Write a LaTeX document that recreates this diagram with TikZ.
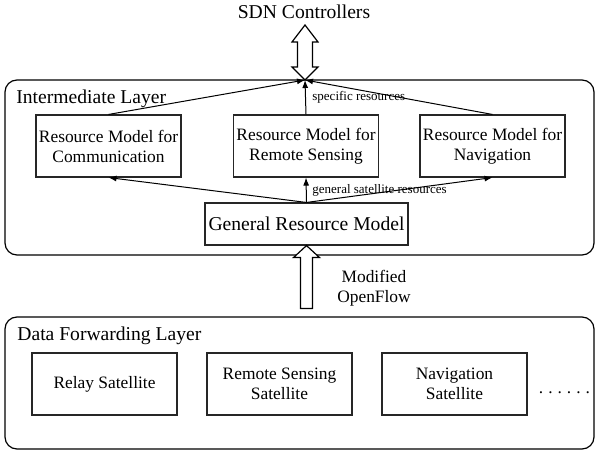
\documentclass[tikz,border=0pt]{standalone}
\usepackage{fontspec}
\setmainfont{Liberation Serif}
\usetikzlibrary{arrows.meta}
\newcommand\gapdot{.\kern2.5pt}
\begin{document}
\begin{tikzpicture}[x=0.5pt, y=-0.5pt,
    layer/.style={draw, rounded corners=6pt, line width=0.6pt},
    res/.style={draw=black!85, line width=0.55pt, minimum width=72.5pt, minimum height=31pt,
        inner sep=0pt, align=center, font=\fontsize{8.7}{10}\selectfont},
    title/.style={inner sep=0pt, font=\fontsize{9.8}{11}\selectfont},
    tag/.style={inner sep=0pt, font=\fontsize{6.5}{7}\selectfont},
    link/.style={-{Latex[length=4pt,width=3pt]}, line width=0.5pt},
    hollow/.style={draw, fill=white, line width=0.6pt}]
    \useasboundingbox (0,0) rectangle (596,450);
    \draw[layer] (5,80) rectangle (594,255);
    \draw[layer] (5,317) rectangle (594,449);
    \node[title, anchor=base] (sdn) at (304,18) {SDN Controllers};
    \node[title, anchor=base west] (inter) at (16,103) {Intermediate Layer};
    \node[title, anchor=base west] (fwd) at (17,340) {Data Forwarding Layer};
    \coordinate (hub) at (305,80);
    \node[res] (comm) at (108.5,146) {Resource Model for\\Communication};
    \node[res] (sens) at (306,146) {Resource Model for\\Remote Sensing};
    \node[res] (navi) at (492.5,146) {Resource Model for\\Navigation};
    \node[res, minimum width=101.5pt, minimum height=21pt, font=\fontsize{9.8}{11}\selectfont] (grm) at (306.5,224) {General Resource Model};
    \node[res] (relay) at (104.5,384) {Relay Satellite};
    \node[res] (rssat) at (279.5,384) {Remote Sensing\\Satellite};
    \node[res] (navsat) at (454.5,384) {Navigation\\Satellite};
    \node[inner sep=0pt, anchor=base, font=\fontsize{8.7}{10}\selectfont] (more) at (564.5,393)
        {\gapdot\gapdot\gapdot\gapdot\gapdot.};
    \node[res, draw=none, align=center, minimum width=0pt, minimum height=0pt] (ofl) at (374,288) {Modified\\OpenFlow};
    \draw[link] (comm.north) -- (hub);
    \draw[link] (sens.north) -- (hub);
    \draw[link] (navi.north) -- (hub);
    \draw[link] (grm.north) -- (comm.south);
    \draw[link] (grm.north) -- (sens.south);
    \draw[link] (grm.north) -- (navi.south);
    \node[tag, anchor=base west] (spec) at (312,100) {specific resources};
    \node[tag, anchor=base west] (gen) at (312,193) {general satellite resources};
    \draw[hollow] (hub) -- ++(13,-13) -- ++(-5.5,0) -- ++(0,-25) -- ++(5.5,0)
        -- ++(-13,-17) -- ++(-13,17) -- ++(5.5,0) -- ++(0,25) -- ++(-5.5,0) -- cycle;
    \draw[hollow] (grm.south) -- ++(13,12) -- ++(-7,0) -- ++(0,51) -- ++(-12,0)
        -- ++(0,-51) -- ++(-7,0) -- cycle;
\end{tikzpicture}
\end{document}
